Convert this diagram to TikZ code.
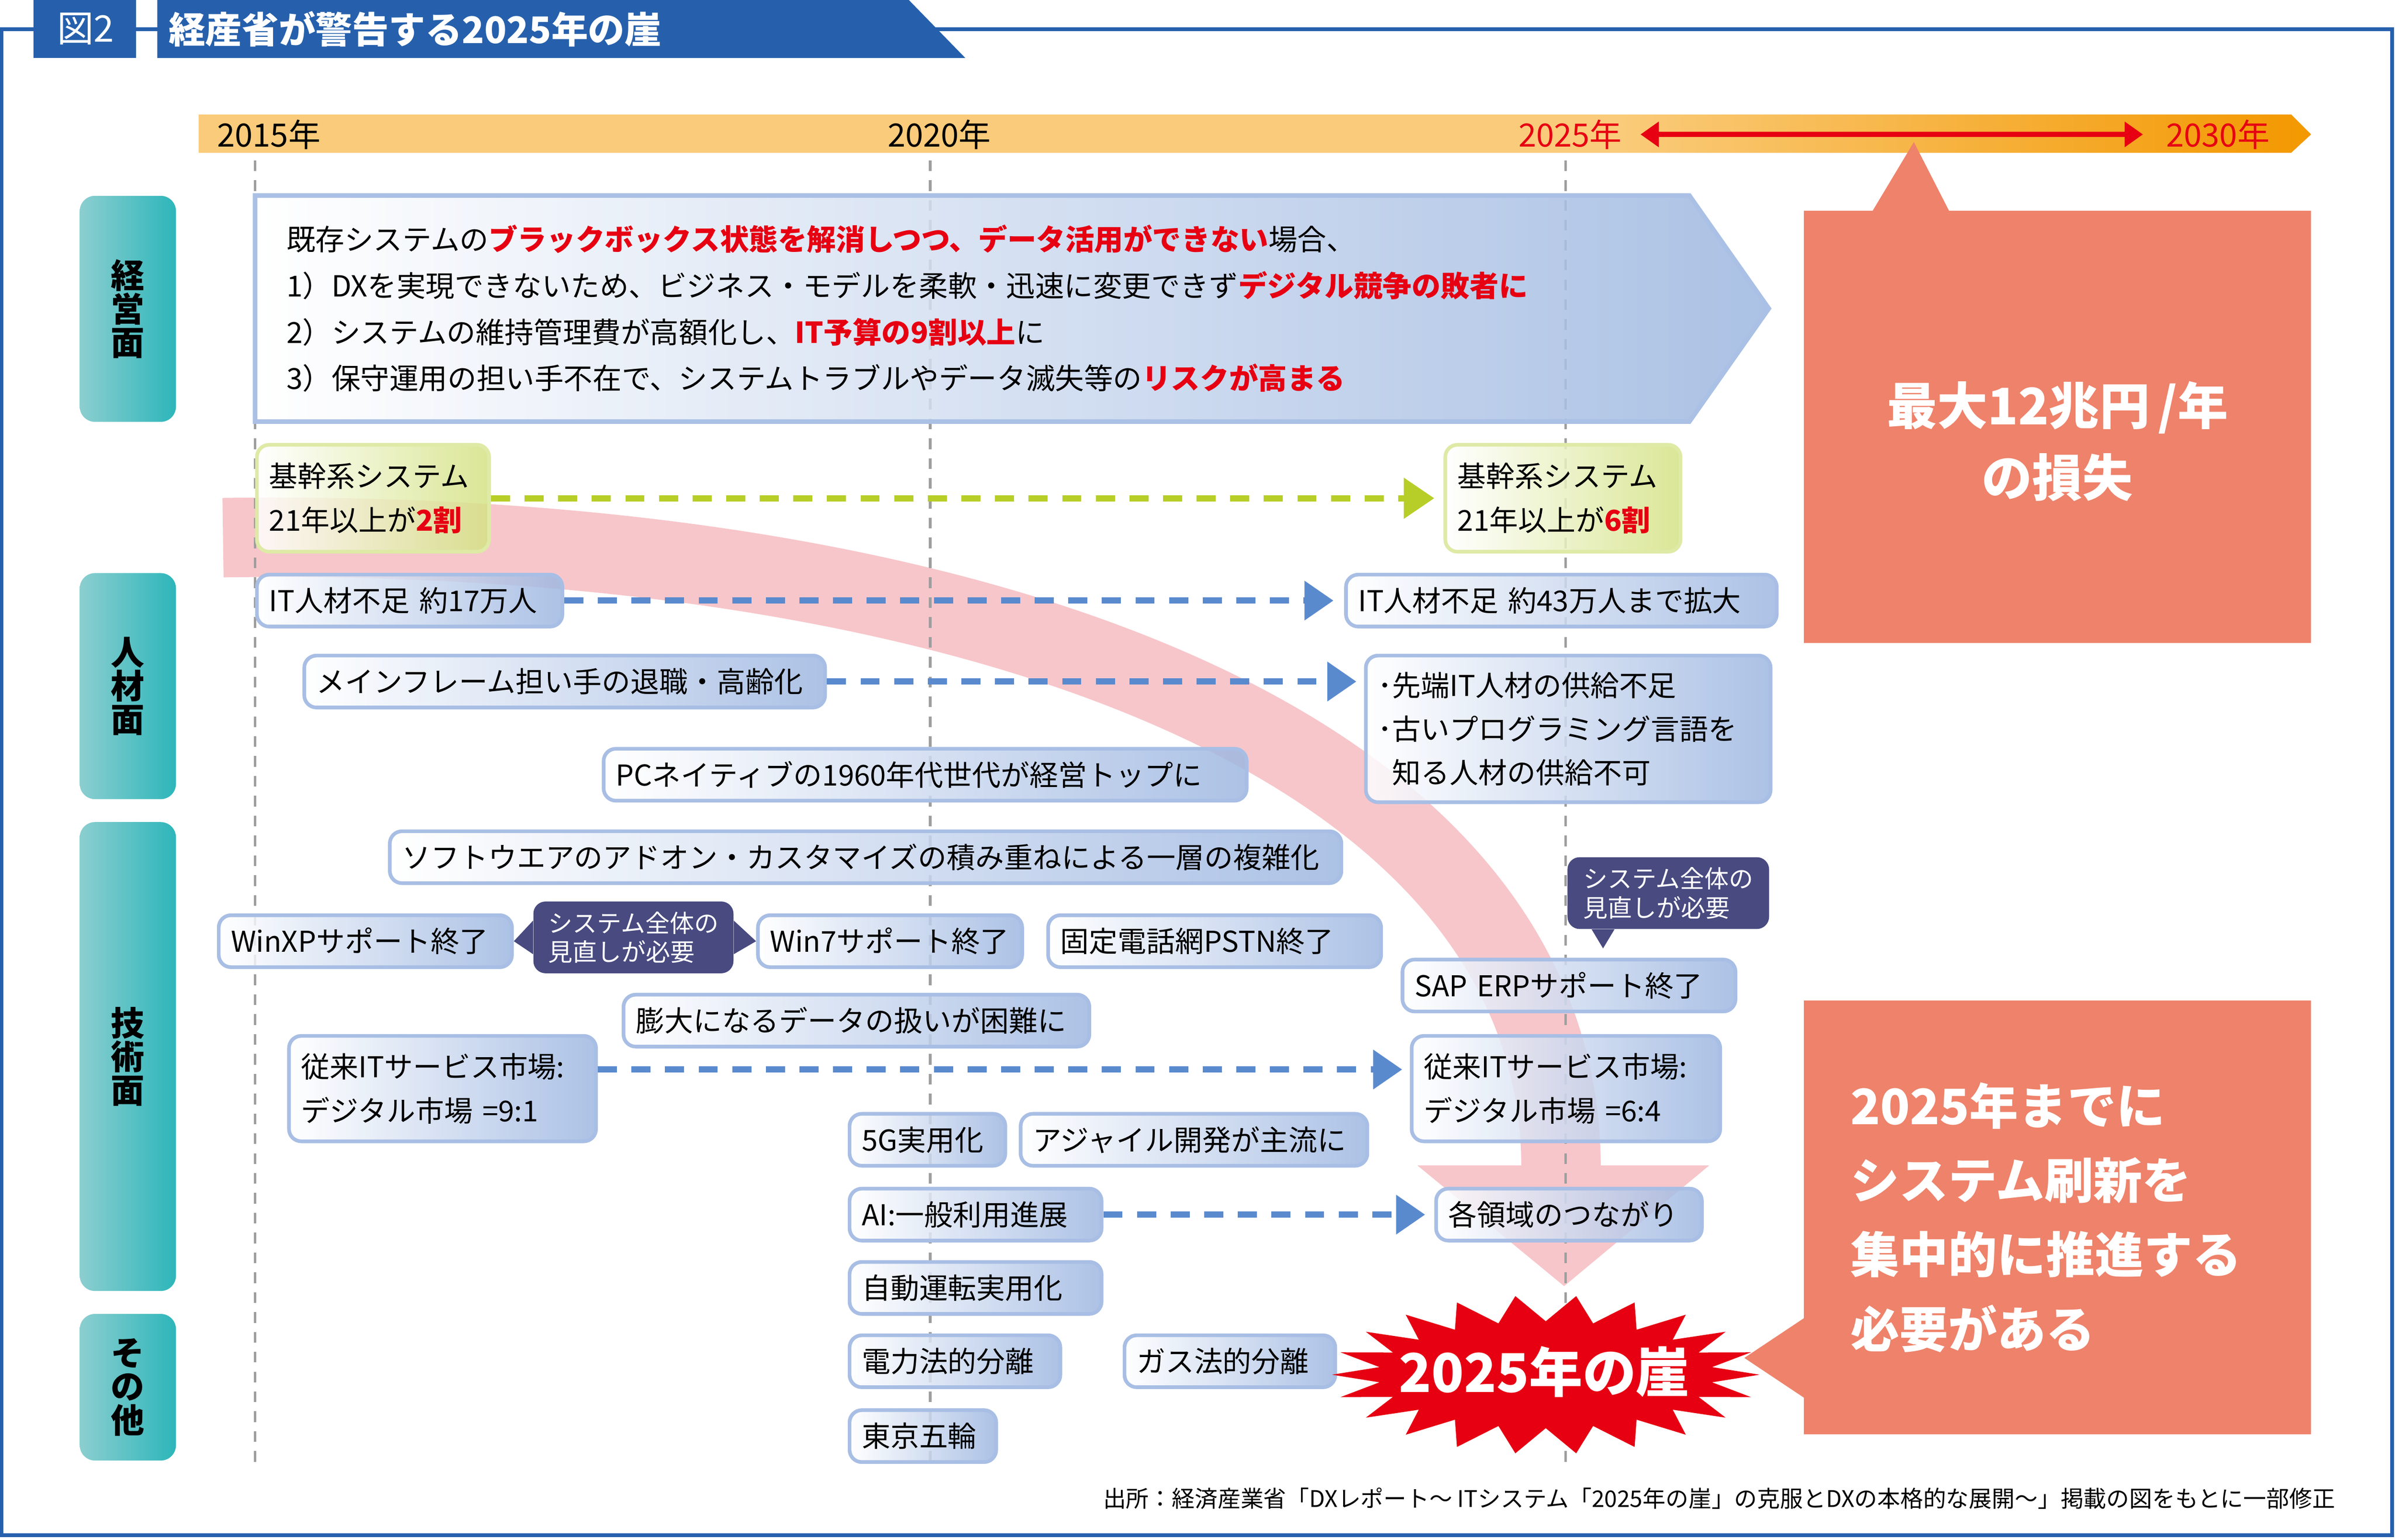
\documentclass[tikz,border=0pt]{standalone}
\usepackage{fontspec}
\setmainfont{Noto Sans CJK JP}
\usetikzlibrary{arrows.meta}
\definecolor{frameblue}{RGB}{38,96,172}
\definecolor{tealA}{RGB}{140,206,208}
\definecolor{tealB}{RGB}{45,182,186}
\definecolor{itemblue}{RGB}{158,183,225}
\definecolor{itemline}{RGB}{168,190,228}
\definecolor{greenfill}{RGB}{212,226,132}
\definecolor{greenline}{RGB}{222,234,166}
\definecolor{flowgreen}{RGB}{184,206,40}
\definecolor{flowblue}{RGB}{90,138,206}
\definecolor{hired}{RGB}{230,0,18}
\definecolor{salmon}{RGB}{238,130,106}
\definecolor{navy}{RGB}{72,74,128}
\definecolor{barlight}{RGB}{250,203,122}
\definecolor{barorange}{RGB}{243,152,0}
\definecolor{pinkband}{RGB}{247,198,202}
\definecolor{gridgray}{RGB}{158,158,158}
\definecolor{mgmtblue}{RGB}{157,183,224}
\definecolor{mgmtline}{RGB}{170,192,229}
\newcommand\redb[1]{{\color{hired}\bfseries #1}}
\tikzset{
  item/.style={draw=itemline, line width=2.4pt, rounded corners=8pt,
    left color=white, right color=itemblue, fill opacity=0.85, text opacity=1,
    inner xsep=8pt, inner ysep=2pt, minimum height=34pt, align=left,
    anchor=north west, font=\fontsize{18.8pt}{29pt}\selectfont},
  greenitem/.style={item, draw=greenline, right color=greenfill},
  callout/.style={fill=navy, rounded corners=8pt, text=white, align=left,
    anchor=north west, inner xsep=8pt, font=\fontsize{16pt}{19pt}\selectfont},
  side/.style={rounded corners=10pt, left color=tealA, right color=tealB,
    minimum width=63pt, align=center, anchor=north west,
    font=\bfseries\fontsize{22pt}{22pt}\selectfont},
  blueflow/.style={draw=flowblue, line width=4pt, dash pattern=on 12.5pt off 9.5pt,
    -{Triangle[length=19pt, width=25pt]}},
  greenflow/.style={blueflow, draw=flowgreen, -{Triangle[length=20pt, width=26pt]}},
  gridline/.style={draw=gridgray, line width=1.6pt, dash pattern=on 7pt off 6pt},
  year/.style={font=\fontsize{21pt}{21pt}\selectfont, inner sep=2pt},
  bigwhite/.style={text=white, font=\bfseries\fontsize{32pt}{48.7pt}\selectfont}
}
\begin{document}
\begin{tikzpicture}[x=1pt, y=-1pt]
  \useasboundingbox (0,0) rectangle (1568,1008);
  \draw[frameblue, line width=2.5pt] (1,19) rectangle (1566,1005);
  \fill[frameblue] (22,0) rectangle (89,38);
  \fill[frameblue] (103,0) -- (595,0) -- (632,38) -- (103,38) -- cycle;
  \node[text=white, font=\fontsize{24pt}{24pt}\selectfont] (fig) at (56,19) {図2};
  \node[text=white, anchor=west, font=\bfseries\fontsize{24pt}{24pt}\selectfont] (title) at (107,19) {経産省が警告する2025年の崖};

  \fill[barlight] (130,75) -- (1500,75) -- (1513,88) -- (1500,100) -- (130,100) -- cycle;
  \shade[left color=barlight, right color=barorange] (1060,75) -- (1500,75) -- (1513,88) -- (1500,100) -- (1060,100) -- cycle;
  \node[year] (y15) at (176,88) {2015年};
  \node[year] (y20) at (615,88) {2020年};
  \node[year, text=hired] (y25) at (1028,88) {2025年};
  \node[year, text=hired] (y30) at (1452,88) {2030年};
  \draw[hired, line width=3.5pt, {Triangle[length=12pt, width=16pt]}-{Triangle[length=12pt, width=16pt]},
    shorten <=10pt, shorten >=13pt] (y25) -- (y30);

  \draw[pinkband, line width=52pt] (146,352) .. controls (620,345) and (1022,480) .. (1022,765);
  \fill[pinkband] (928,763) -- (1119,763) -- (1024,842) -- cycle;
  \foreach \x in {167,609,1025}
    \draw[gridline] (\x,105) -- (\x,957);

  \path[draw=mgmtline, line width=3pt, left color=white, right color=mgmtblue, fill opacity=0.85]
    (167,128) -- (1106,128) -- (1158,202) -- (1106,276) -- (167,276) -- cycle;
  \node[anchor=west, align=left, font=\fontsize{19pt}{30.3pt}\selectfont] (mgmt) at (184,202)
    {既存システムの\redb{ブラックボックス状態を解消しつつ、データ活用ができない}場合、\\
     1）DXを実現できないため、ビジネス・モデルを柔軟・迅速に変更できず\redb{デジタル競争の敗者に}\\
     2）システムの維持管理費が高額化し、\redb{IT予算の9割以上}に\\
     3）保守運用の担い手不在で、システムトラブルやデータ滅失等の\redb{リスクが高まる}};

  \node[side, minimum height=148pt] (keiei) at (52,128) {経\\営\\面};
  \node[side, minimum height=148pt] (jinzai) at (52,375) {人\\材\\面};
  \node[side, minimum height=307pt] (gijutsu) at (52,538) {技\\術\\面};
  \node[side, minimum height=96pt] (sonota) at (52,860) {そ\\の\\他};

  \node[greenitem, text width=136pt, minimum height=70pt] (kik2) at (167,290) {基幹系システム\\21年以上が\redb{2割}};
  \node[greenitem, text width=138pt, minimum height=70pt] (kik6) at (945,290) {基幹系システム\\21年以上が\redb{6割}};
  \node[item, text width=184pt] (it17) at (167,375) {IT人材不足~約17万人};
  \node[item, text width=266pt] (it43) at (880,375) {IT人材不足~約43万人まで拡大};
  \node[item, text width=325pt] (mf) at (198,428) {メインフレーム担い手の退職・高齢化};
  \node[item, text width=249pt, minimum height=96pt, font=\fontsize{18.8pt}{28.6pt}\selectfont] (sentan) at (893,428)
    {･先端IT人材の供給不足\\･古いプログラミング言語を\\\hspace*{0.5em}知る人材の供給不可};
  \node[item, text width=405pt] (pcnat) at (394,489) {PCネイティブの1960年代世代が経営トップに};
  \node[item, text width=607pt] (addon) at (254,543) {ソフトウエアのアドオン・カスタマイズの積み重ねによる一層の複雑化};
  \node[item, text width=176pt] (winxp) at (142,598) {WinXPサポート終了};
  \node[item, text width=157pt] (win7) at (495,598) {Win7サポート終了};
  \node[item, text width=202pt] (pstn) at (685,598) {固定電話網PSTN終了};
  \node[item, text width=202pt] (sap) at (917,627) {SAP~ERPサポート終了};
  \node[item, text width=289pt] (bodai) at (407,650) {膨大になるデータの扱いが困難に};
  \node[item, text width=185pt, minimum height=69pt] (old91) at (188,677) {従来ITサービス市場:\\デジタル市場~=9:1};
  \node[item, text width=186pt, minimum height=69pt] (new64) at (923,677) {従来ITサービス市場:\\デジタル市場~=6:4};
  \node[item, text width=86pt] (g5) at (555,728) {5G実用化};
  \node[item, text width=211pt] (agile) at (667,728) {アジャイル開発が主流に};
  \node[item, text width=149pt] (ai) at (555,777) {AI:一般利用進展};
  \node[item, text width=158pt] (kakuryo) at (939,777) {各領域のつながり};
  \node[item, text width=149pt] (jido) at (555,825) {自動運転実用化};
  \node[item, text width=122pt] (denryoku) at (555,873) {電力法的分離};
  \node[item, text width=122pt] (gas) at (735,873) {ガス法的分離};
  \node[item, text width=80pt] (gorin) at (555,922) {東京五輪};

  \node[callout, minimum width=131pt, minimum height=47pt] (cxp) at (349,590) {システム全体の\\見直しが必要};
  \fill[navy] ([yshift=11pt]cxp.west) -- (winxp.east) -- ([yshift=-11pt]cxp.west) -- cycle;
  \fill[navy] ([yshift=11pt]cxp.east) -- (win7.west) -- ([yshift=-11pt]cxp.east) -- cycle;
  \node[callout, minimum width=132pt, minimum height=47pt] (csap) at (1026,561) {システム全体の\\見直しが必要};
  \fill[navy] ([xshift=16pt]csap.south west) -- ([xshift=31pt]csap.south west)
    -- ([xshift=23.5pt, yshift=-12.5pt]csap.south west) -- cycle;

  \draw[greenflow, shorten >=6pt] (kik2) -- (kik6);
  \draw[blueflow, shorten >=7pt] (it17) -- (it43);
  \draw[blueflow, shorten >=5pt] (mf.east) -- (mf.east -| sentan.west);
  \draw[blueflow, shorten >=5pt] ([yshift=12.5pt]old91.east) -- ([yshift=12.5pt]new64.west);
  \draw[blueflow, shorten >=6pt] (ai) -- (kakuryo);

  \fill[salmon] (1181,138) -- (1226,138) -- (1253,93) -- (1276,138) -- (1513,138) -- (1513,421) -- (1181,421) -- cycle;
  \node[bigwhite, align=center, font=\bfseries\fontsize{33pt}{47pt}\selectfont] (loss) at (1347,289) {最大12兆円\,/年\\の損失};
  \fill[salmon] (1181,655) -- (1513,655) -- (1513,939) -- (1181,939) -- (1181,915) -- (1142,889) -- (1181,863) -- cycle;
  \node[bigwhite, align=left, anchor=west] (renew) at (1208,797) {2025年までに\\システム刷新を\\集中的に推進する\\必要がある};

  \fill[hired] (1152,900) \foreach \k in {1,...,22} {
    -- ({1012+110*cos((\k-0.5)*360/22)}, {900+35*sin((\k-0.5)*360/22)})
    -- ({1012+140*cos(\k*360/22)}, {900+52*sin(\k*360/22)}) } -- cycle;
  \node[text=white, font=\bfseries\fontsize{35pt}{35pt}\selectfont] (cliff) at (1011,898) {2025年の崖};

  \node[anchor=east, inner sep=0pt, font=\fontsize{15pt}{15pt}\selectfont] (src) at (1529,981)
    {出所：経済産業省「DXレポート～ ITシステム「2025年の崖」の克服とDXの本格的な展開～」掲載の図をもとに一部修正};
\end{tikzpicture}
\end{document}
